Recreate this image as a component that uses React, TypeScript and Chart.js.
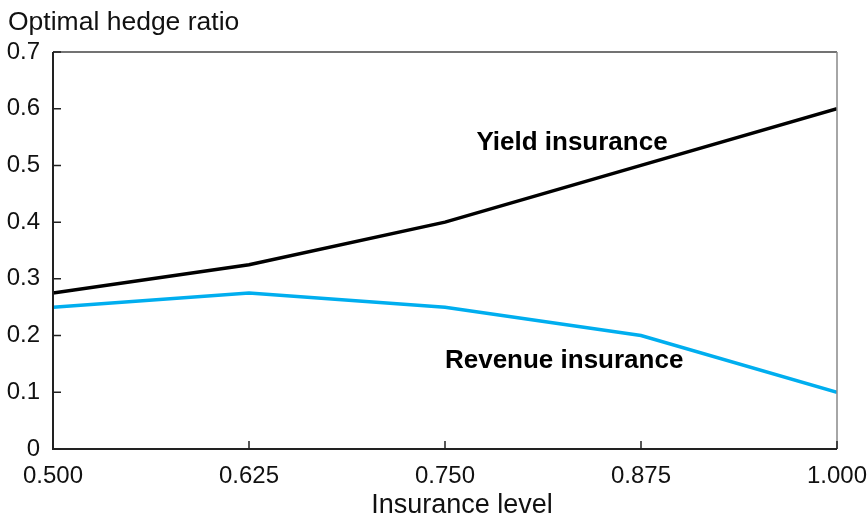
import React, { useEffect, useRef } from "react";
import { Chart, registerables } from "chart.js";

Chart.register(...registerables);

const insuranceLevels = [0.5, 0.625, 0.75, 0.875, 1.0];
const yieldInsurance = [0.275, 0.325, 0.4, 0.5, 0.6];
const revenueInsurance = [0.25, 0.275, 0.25, 0.2, 0.1];
const yTitle = "Optimal hedge ratio";
const xTitle = "Insurance level";
const annotations = [
  { text: "Yield insurance", x: 0.831, y: 0.54 },
  { text: "Revenue insurance", x: 0.826, y: 0.155 },
];

const FONT = "'Liberation Sans', Arial, Helvetica, sans-serif";

const framePlugin = {
  id: "framePlugin",
  afterDatasetsDraw(chart: any) {
    const { ctx, chartArea: a, scales } = chart;
    const xs = scales.x;
    const ys = scales.y;
    ctx.save();
    ctx.lineWidth = 1.5;
    ctx.strokeStyle = "#444";
    ctx.beginPath();
    ctx.moveTo(a.left, a.top);
    ctx.lineTo(a.right, a.top);
    ctx.stroke();
    ctx.strokeStyle = "#888";
    ctx.beginPath();
    ctx.moveTo(a.right, a.top);
    ctx.lineTo(a.right, a.bottom);
    ctx.stroke();
    ctx.lineWidth = 2;
    ctx.strokeStyle = "#222";
    ctx.beginPath();
    ctx.moveTo(a.left, a.top);
    ctx.lineTo(a.left, a.bottom);
    ctx.lineTo(a.right, a.bottom);
    ctx.stroke();
    ctx.lineWidth = 1.5;
    ctx.beginPath();
    ys.ticks.forEach((t: any) => {
      const py = ys.getPixelForValue(t.value);
      ctx.moveTo(a.left, py);
      ctx.lineTo(a.left + 8, py);
    });
    xs.ticks.forEach((t: any) => {
      const px = xs.getPixelForValue(t.value);
      ctx.moveTo(px, a.bottom);
      ctx.lineTo(px, a.bottom - 8);
    });
    ctx.stroke();
    ctx.fillStyle = "#111";
    ctx.textBaseline = "middle";
    ctx.font = `26.5px ${FONT}`;
    ctx.textAlign = "left";
    ctx.fillText(yTitle, 8, 23);
    ctx.font = `27px ${FONT}`;
    ctx.textAlign = "center";
    ctx.fillText(xTitle, 462, 506);
    ctx.font = `bold 26px ${FONT}`;
    ctx.fillStyle = "#000";
    annotations.forEach((n) => {
      ctx.fillText(n.text, xs.getPixelForValue(n.x), ys.getPixelForValue(n.y));
    });
    ctx.restore();
  },
};

export default function App() {
  const ref = useRef<HTMLCanvasElement | null>(null);
  useEffect(() => {
    document.body.style.margin = "0";
    if (!ref.current) return;
    const chart = new Chart(ref.current, {
      type: "line",
      data: {
        datasets: [
          {
            label: "Yield insurance",
            data: insuranceLevels.map((x, i) => ({ x, y: yieldInsurance[i] })),
            borderColor: "#000000",
            borderWidth: 3.5,
            pointRadius: 0,
            tension: 0,
          },
          {
            label: "Revenue insurance",
            data: insuranceLevels.map((x, i) => ({ x, y: revenueInsurance[i] })),
            borderColor: "#00AEEF",
            borderWidth: 3.5,
            pointRadius: 0,
            tension: 0,
          },
        ],
      },
      options: {
        animation: false,
        responsive: false,
        devicePixelRatio: 1,
        layout: { padding: { top: 52, right: 31, left: 0, bottom: 0 } },
        plugins: { legend: { display: false }, tooltip: { enabled: false }, title: { display: false } },
        scales: {
          x: {
            type: "linear",
            min: 0.5,
            max: 1.0,
            grid: { display: false, drawTicks: false },
            border: { display: false },
            ticks: {
              stepSize: 0.125,
              padding: 13,
              color: "#111",
              font: { family: FONT, size: 24 },
              maxRotation: 0,
              callback: (v: any) => Number(v).toFixed(3),
            },
            afterFit: (s: any) => {
              s.height = 71;
              s.paddingLeft = 0;
              s.paddingRight = 0;
            },
          },
          y: {
            type: "linear",
            min: 0,
            max: 0.7,
            grid: { display: false, drawTicks: false },
            border: { display: false },
            ticks: {
              stepSize: 0.1,
              padding: 13,
              color: "#111",
              font: { family: FONT, size: 24 },
              callback: (v: any) => (Number(v) === 0 ? "0" : Number(v).toFixed(1)),
            },
            afterFit: (s: any) => {
              s.width = 53;
              s.paddingTop = 0;
              s.paddingBottom = 0;
            },
          },
        },
      },
      plugins: [framePlugin],
    });
    return () => chart.destroy();
  }, []);
  return (
    <div style={{ width: 868, height: 520 }}>
      <canvas ref={ref} width={868} height={520} style={{ display: "block" }} />
    </div>
  );
}
